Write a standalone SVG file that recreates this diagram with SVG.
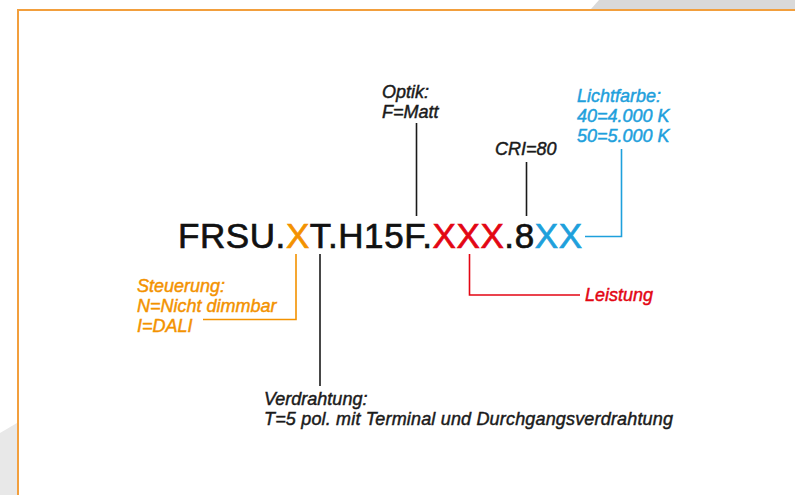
<svg xmlns="http://www.w3.org/2000/svg" width="795" height="495" viewBox="0 0 795 495">
<style>
.lbl{font-family:"Liberation Sans",Arial,sans-serif;font-style:italic;font-size:18px;stroke-width:0.45;}
.code{font-family:"Liberation Sans",Arial,sans-serif;font-size:35px;fill:#111;stroke:#111;stroke-width:0.7;}
.k{fill:#1a1a1a;stroke:#1a1a1a}
.o{fill:#f39200;stroke:#f39200}
.r{fill:#e30613;stroke:#e30613}
.b{fill:#1ea0dc;stroke:#1ea0dc}
.ln{fill:none;stroke-width:1.6}
</style>
<rect x="0" y="0" width="795" height="495" fill="#ffffff"/>
<polygon points="591,9 599,0 795,0 795,9" fill="#d9d9d9"/>
<polygon points="0,433 17,423 17,495 0,495" fill="#e8e8e8"/>
<rect x="18" y="10" width="800" height="500" fill="#ffffff" stroke="#f29f3d" stroke-width="2"/>
<g id="connectors">
<polyline class="ln" stroke="#1a1a1a" points="416.5,123 416.5,216"/>
<polyline class="ln" stroke="#1a1a1a" points="526.5,162 526.5,216"/>
<polyline class="ln" stroke="#1ea0dc" points="585,236.5 621.5,236.5 621.5,149"/>
<polyline class="ln" stroke="#f39200" points="296,254 296,319.5 203,319.5"/>
<polyline class="ln" stroke="#1a1a1a" points="320,254 320,386"/>
<polyline class="ln" stroke="#e30613" points="469.5,254 469.5,295 580,295"/>
</g>
<g id="code">
<text class="code" x="178" y="248" textLength="404" lengthAdjust="spacing">FRSU.<tspan class="o">X</tspan>T.H15F.<tspan class="r">XXX</tspan>.8<tspan class="b">XX</tspan></text>
</g>
<g id="optik">
<text class="lbl k" x="382" y="98">Optik:</text>
<text class="lbl k" x="382" y="118">F=Matt</text>
</g>
<g id="cri">
<text class="lbl k" x="495" y="155">CRI=80</text>
</g>
<g id="lichtfarbe">
<text class="lbl b" x="577" y="102">Lichtfarbe:</text>
<text class="lbl b" x="577" y="122">40=4.000 K</text>
<text class="lbl b" x="577" y="142">50=5.000 K</text>
</g>
<g id="steuerung">
<text class="lbl o" x="137" y="292">Steuerung:</text>
<text class="lbl o" x="137" y="312">N=Nicht dimmbar</text>
<text class="lbl o" x="137" y="332">I=DALI</text>
</g>
<g id="leistung">
<text class="lbl r" x="585" y="301">Leistung</text>
</g>
<g id="verdrahtung">
<text class="lbl k" x="264" y="405">Verdrahtung:</text>
<text class="lbl k" x="264" y="425" textLength="409" lengthAdjust="spacing">T=5 pol. mit Terminal und Durchgangsverdrahtung</text>
</g>
</svg>
